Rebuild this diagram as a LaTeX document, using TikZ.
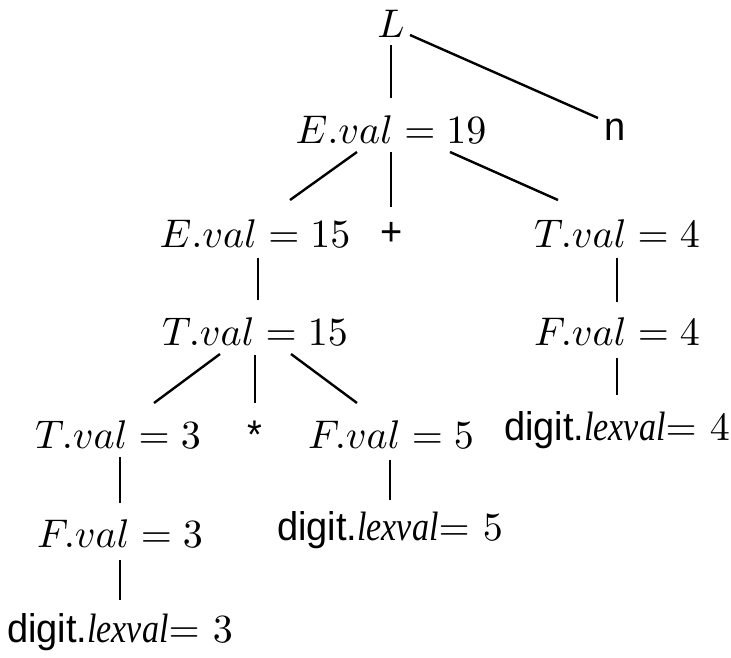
\documentclass[tikz,border=0pt]{standalone}
\usepackage{graphicx}
\usepackage{fontspec}
\newfontfamily\dgfont[FakeStretch=0.95]{Liberation Sans}
\newfontfamily\lxfont[FakeStretch=0.83]{Liberation Serif}
\newcommand{\mth}[1]{\scalebox{4}{$#1$}}
\newcommand{\dlex}[1]{{\fontsize{40}{48}\selectfont\dgfont digit.}{\fontsize{41}{48}\selectfont\lxfont\itshape lexval}\scalebox{4}{$=\mskip1mu#1$}}
\begin{document}
\begin{tikzpicture}[x=1pt,y=-1pt,
  lab/.style={inner sep=0pt,anchor=base},
  sflab/.style={inner sep=0pt,anchor=base,font=\fontsize{40}{48}\selectfont\dgfont},
  edge/.style={line width=2.4pt}]
\useasboundingbox (0,0) rectangle (731,657);
\node[lab] (L) at (391,37) {\mth{L}};
\node[sflab] (n) at (615,140) {n};
\node[lab] (e19) at (391,143) {\mth{E.val=19}};
\node[lab] (e15) at (255,247) {\mth{E.val=15}};
\node[sflab] (plus) at (392,245) {+};
\node[lab] (t4) at (617,247) {\mth{T.val=4}};
\node[lab] (t15) at (255,345) {\mth{T.val=15}};
\node[lab] (f4) at (617,345) {\mth{F.val=4}};
\node[lab] (t3) at (118,448) {\mth{T.val=3}};
\node[sflab] (star) at (255,448) {*};
\node[lab] (f5) at (391,448) {\mth{F.val=5}};
\node[lab] (d4) at (617,440) {\dlex{4}};
\node[lab] (f3) at (120,547) {\mth{F.val=3}};
\node[lab] (d5) at (390,540) {\dlex{5}};
\node[lab] (d3) at (120,642) {\dlex{3}};
\draw[edge] ([shift={(0,8)}]L.base) -- ([shift={(0,-45)}]e19.base);
\draw[edge] ([shift={(19,-2)}]L.base) -- ([shift={(-17,-22)}]n.base);
\draw[edge] ([shift={(-34,9)}]e19.base) -- ([shift={(35,-47)}]e15.base);
\draw[edge] ([shift={(0,9)}]e19.base) -- ([shift={(-1,-38)}]plus.base);
\draw[edge] ([shift={(59,9)}]e19.base) -- ([shift={(-59,-47)}]t4.base);
\draw[edge] ([shift={(3,11)}]e15.base) -- ([shift={(3,-45)}]t15.base);
\draw[edge] ([shift={(0,11)}]t4.base) -- ([shift={(0,-43)}]f4.base);
\draw[edge] ([shift={(-35,9)}]t15.base) -- ([shift={(36,-45)}]t3.base);
\draw[edge] ([shift={(0,10)}]t15.base) -- ([shift={(0,-45)}]star.base);
\draw[edge] ([shift={(36,9)}]t15.base) -- ([shift={(-34,-45)}]f5.base);
\draw[edge] ([shift={(2,9)}]t3.base) -- ([shift={(0,-44)}]f3.base);
\draw[edge] ([shift={(-1,12)}]f5.base) -- ([shift={(0,-40)}]d5.base);
\draw[edge] ([shift={(0,13)}]f4.base) -- ([shift={(0,-45)}]d4.base);
\draw[edge] ([shift={(0,13)}]f3.base) -- ([shift={(0,-42)}]d3.base);
\end{tikzpicture}
\end{document}
